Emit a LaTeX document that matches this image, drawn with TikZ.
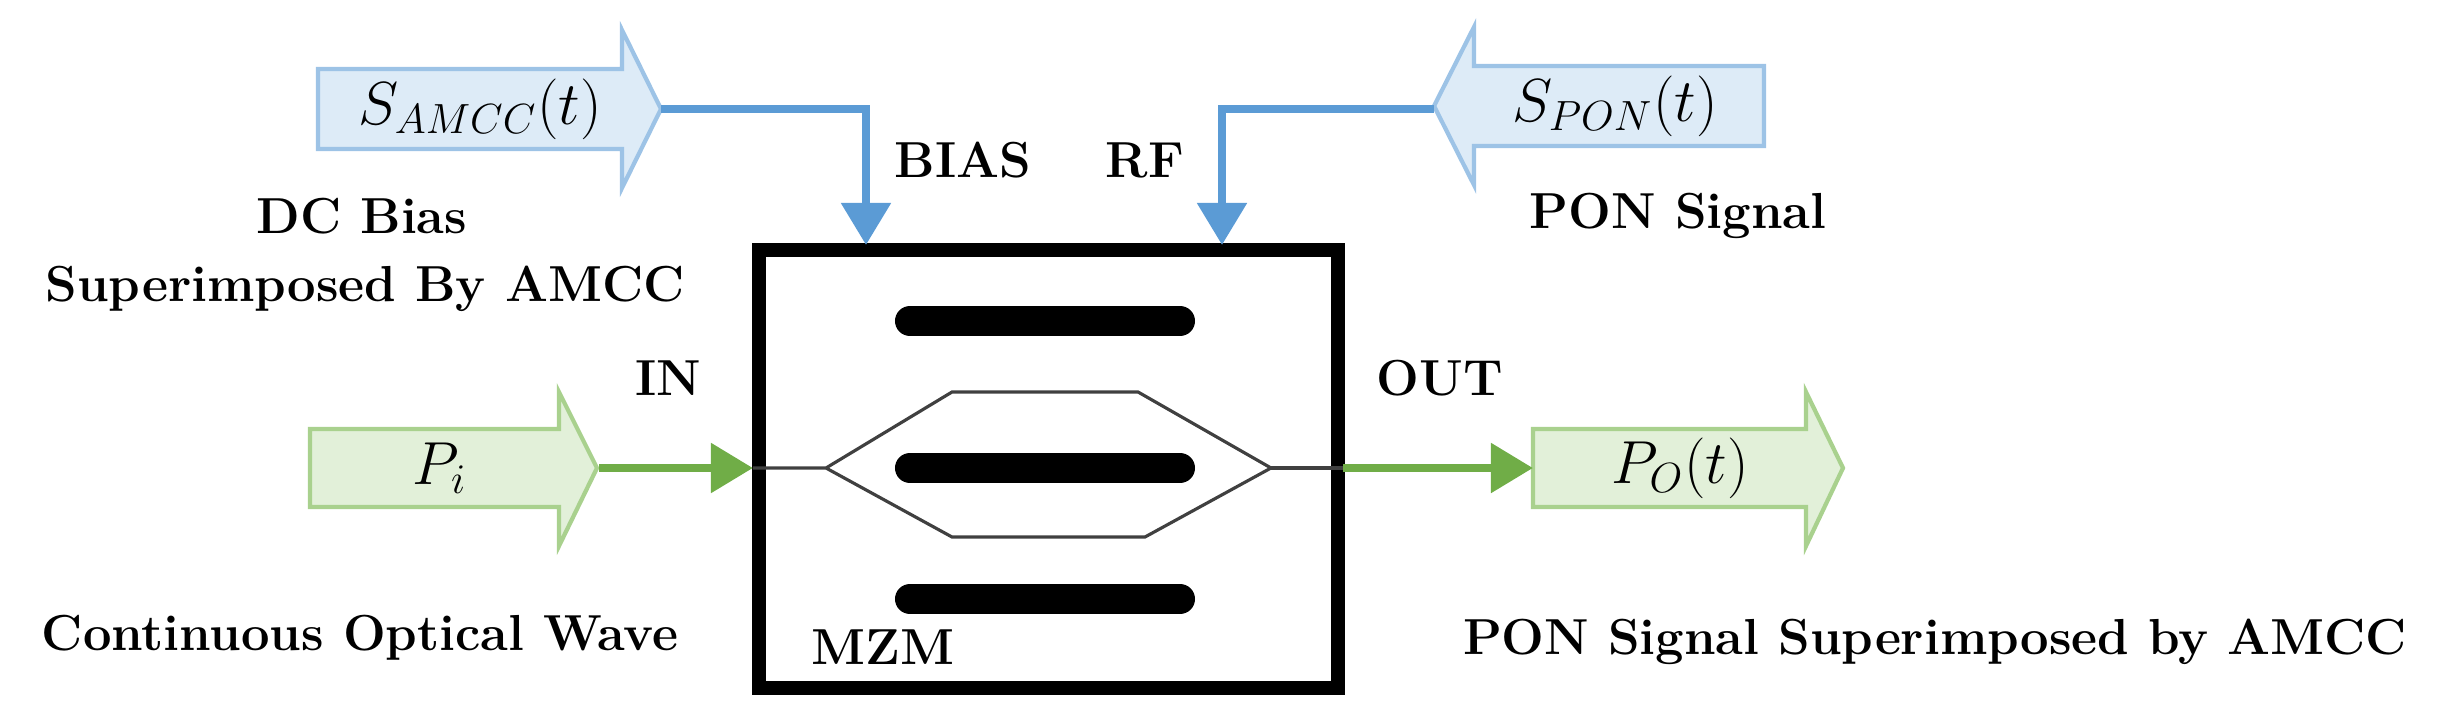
\documentclass[tikz,border=0pt]{standalone}
\usetikzlibrary{arrows.meta}
\definecolor{bluefill}{HTML}{DDEBF7}
\definecolor{blueedge}{HTML}{9DC3E6}
\definecolor{blueline}{HTML}{5B9BD5}
\definecolor{greenfill}{HTML}{E2F0D9}
\definecolor{greenedge}{HTML}{A9D18E}
\definecolor{greenline}{HTML}{70AD47}
\tikzset{
  lbl/.style={font=\fontsize{14.4}{17}\selectfont\bfseries},
  sig/.style={font=\fontsize{17}{19}\selectfont},
  bluearrow/.style={fill=bluefill, draw=blueedge, line width=1.2pt},
  greenarrow/.style={fill=greenfill, draw=greenedge, line width=1.2pt},
  bluewire/.style={draw=blueline, line width=2.4pt, -{Triangle[length=0.42cm,width=0.48cm]}},
  greenwire/.style={draw=greenline, line width=2.4pt, -{Triangle[length=0.42cm,width=0.48cm]}},
  bar/.style={line width=0.3cm, line cap=round},
  arm/.style={draw=black!75, line width=0.9pt}
}
\begin{document}
\begin{tikzpicture}[x=0.01cm, y=-0.01cm]
    \useasboundingbox (0,0) rectangle (2450,718);

    % block arrows
    \draw[bluearrow] (318,69) -- (622,69) -- (622,30) -- (661,109) -- (622,188) -- (622,149) -- (318,149) -- cycle;
    \draw[bluearrow] (1764,66) -- (1474,66) -- (1474,27) -- (1434,106) -- (1474,185) -- (1474,146) -- (1764,146) -- cycle;
    \draw[greenarrow] (310,429) -- (559,429) -- (559,392) -- (597,468) -- (559,546) -- (559,507) -- (310,507) -- cycle;
    \draw[greenarrow] (1533,429) -- (1806,429) -- (1806,392) -- (1843,468) -- (1806,546) -- (1806,507) -- (1533,507) -- cycle;

    \node[sig] (samcc) at (480,109) {$S_{AMCC}(t)$};
    \node[sig] (spon) at (1615,106) {$S_{PON}(t)$};
    \node[sig] (pin) at (440,468) {$P_i$};
    \node[sig] (pout) at (1680,468) {$P_O(t)$};

    \coordinate (amcctip) at (661,109);
    \coordinate (pontip) at (1434,109);
    \coordinate (pintip) at (599,468);
    \coordinate (pouttail) at (1533,468);

    % modulator
    \draw[line width=4pt] (759,250) rectangle (1338,688);
    \coordinate (bias) at (866,245);
    \coordinate (rf) at (1222,245);
    \coordinate (inport) at (753,468);
    \coordinate (outport) at (1343,468);

    \draw[bar] (910,321) -- (1180,321);
    \draw[bar] (910,468) -- (1180,468);
    \draw[bar] (910,599) -- (1180,599);

    \draw[arm] (inport) -- (826,468) -- (952,392) -- (1138,392) -- (1271,468) -- (1145,537) -- (952,537) -- (826,468);
    \draw[arm] (1271,468) -- (outport);

    % connectors
    \draw[bluewire] (amcctip) -| (bias);
    \draw[bluewire] (pontip) -| (rf);
    \draw[greenwire] (pintip) -- (inport);
    \draw[greenwire] (outport) -- (pouttail);

    % labels
    \node[lbl] (biaslbl) at (963,160) {BIAS};
    \node[lbl] (rflbl) at (1145,160) {RF};
    \node[lbl] (inlbl) at (668,378) {IN};
    \node[lbl] (outlbl) at (1440,378) {OUT};
    \node[lbl] (mzm) at (883,647) {MZM};
    \node[lbl] (dc) at (362,216) {DC Bias};
    \node[lbl] (dcsup) at (365,289) {Superimposed By AMCC};
    \node[lbl] (cw) at (360,638) {Continuous Optical Wave};
    \node[lbl] (pon) at (1678,216) {PON Signal};
    \node[lbl] (ponsup) at (1935,642) {PON Signal Superimposed by AMCC};
\end{tikzpicture}
\end{document}
